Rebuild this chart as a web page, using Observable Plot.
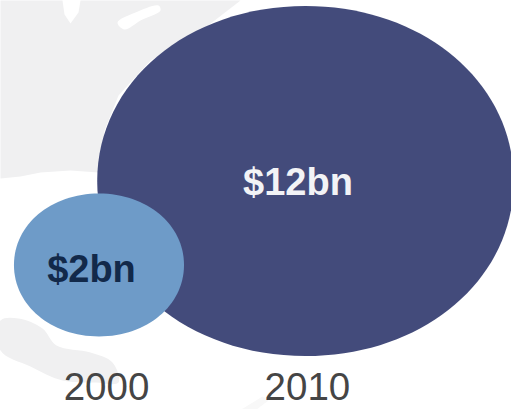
<!DOCTYPE html>
<html>
<head>
<meta charset="utf-8">
<script src="https://cdn.jsdelivr.net/npm/d3@7"></script>
<script src="https://cdn.jsdelivr.net/npm/@observablehq/plot@0.6"></script>
<style>
  html, body { margin: 0; padding: 0; background: #fff; overflow: hidden; }
  svg { display: block; }
</style>
</head>
<body>
<div id="chart"></div>
<script>
// Investment totals by year, in $bn
const years = [2000, 2010];
const values = [2, 12];
const valueLabels = ["$2bn", "$12bn"];
const bubbleColors = ["#6e9bc8", "#434b7b"];
const labelColors = ["#12294a", "#f2f3f6"];

// Faint map backdrop, outlined in SVG units
const landMain = [[0,0],[62,0],[64,14],[70,23],[78,12],[80,0],[240,0],[196,34],[150,60],[118,95],[104,130],[98,172],[70,170],[40,172],[20,176],[0,178]];
const landIsle = [[117,22],[135,12],[158,5],[160,10],[140,20],[124,29]];
const landSouth = [[0,320],[18,318],[42,328],[56,345],[90,352],[112,362],[118,382],[95,382],[62,380],[30,366],[0,350]];
const landSpit = [[236,412],[262,396],[268,400],[252,412]];

const rows = years.map((year, i) => ({
  year, value: values[i], label: valueLabels[i], color: bubbleColors[i], ink: labelColors[i]
}));

// Bubbles are squashed circles: the area still follows the value
const stretch = 1.19;
const oval = {
  draw(context, size) {
    const r = Math.sqrt(size / Math.PI), a = r * stretch, k = 0.565;
    context.moveTo(a, 0);
    context.bezierCurveTo(a, k * r, k * a, r, 0, r);
    context.bezierCurveTo(-k * a, r, -a, k * r, -a, 0);
    context.bezierCurveTo(-a, -k * r, -k * a, -r, 0, -r);
    context.bezierCurveTo(k * a, -r, a, -k * r, a, 0);
    context.closePath();
  }
};

const sans = "'Liberation Sans', Arial, sans-serif";

// Backdrop shapes bypass the year and value scales
const land = (pts, fill, curve) => Plot.line(pts, {
  x: {value: (d) => d[0], scale: null},
  y: {value: (d) => d[1], scale: null},
  fill, stroke: "none", curve
});

const valueText = (row, dy) => Plot.text([row], {
  x: "year", y: "value", text: "label", fill: "ink",
  dx: -7.5, dy, fontSize: 38, fontWeight: "bold", textAnchor: "middle"
});

const yearText = (year, dx) => Plot.text([year], {
  x: (d) => d, frameAnchor: "bottom", dy: -10, dx, text: String, fill: "#454545",
  fontSize: 38.5, textAnchor: "middle", lineAnchor: "bottom"
});

const chart = Plot.plot({
  width: 511,
  height: 409,
  margin: 0,
  style: {background: "#ffffff", fontFamily: sans},
  x: {domain: [1995.23, 2019.98], range: [0, 511], axis: null},
  y: {domain: [33.49, -15.2], range: [0, 409], axis: null},
  r: {type: "sqrt", domain: [0, 12], range: [0, 175]},
  color: {type: "identity"},
  marks: [
    land(landMain, "#f0f0f1", "linear"),
    land(landSouth, "#f0f0f1", "catmull-rom-closed"),
    land(landSpit, "#f8f8f8", "linear"),
    land(landIsle, "#ffffff", "catmull-rom-closed"),
    // The later, larger bubble sits beneath the earlier one
    Plot.dot([rows[1], rows[0]], {
      x: "year", y: "value", r: "value", symbol: () => oval,
      fill: "color", stroke: "none", sort: null
    }),
    valueText(rows[1], 1.5),
    valueText(rows[0], 4.5),
    yearText(years[0], 7.5),
    yearText(years[1], 2)
  ]
});

document.getElementById("chart").append(chart);
</script>
</body>
</html>
